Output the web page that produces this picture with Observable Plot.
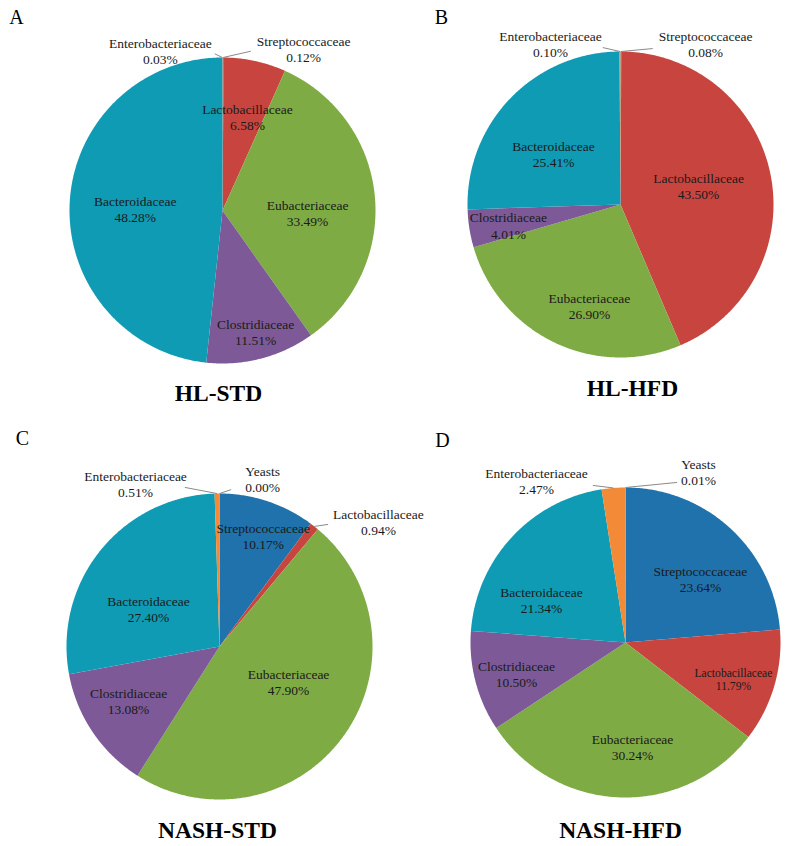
<!DOCTYPE html>
<html><head><meta charset="utf-8">
<script src="https://cdn.jsdelivr.net/npm/d3@7"></script>
<script src="https://cdn.jsdelivr.net/npm/@observablehq/plot@0.6"></script>
<style>
body{margin:0;background:#fff}
#chart{position:relative;width:786px;height:846px;overflow:hidden;background:#fff}
#chart svg{position:absolute;overflow:visible}
</style>
</head><body><div id="chart"></div>
<script>
// ---------- data ----------
const categories = ["Yeasts","Streptococcaceae","Lactobacillaceae","Eubacteriaceae","Clostridiaceae","Bacteroidaceae","Enterobacteriaceae"];
const panelLetters = ["A","B","C","D"];
const panelTitles = ["HL-STD","HL-HFD","NASH-STD","NASH-HFD"];
const hlStd   = [null, 0.12, 6.58, 33.49, 11.51, 48.28, 0.03];
const hlHfd   = [null, 0.08, 43.50, 26.90, 4.01, 25.41, 0.10];
const nashStd = [0.00, 10.17, 0.94, 47.90, 13.08, 27.40, 0.51];
const nashHfd = [0.01, 23.64, 11.79, 30.24, 10.50, 21.34, 2.47];
const panelValues = [hlStd, hlHfd, nashStd, nashHfd];

// ---------- style / layout ----------
const colors = ["#b0b0b0", "#1f72ab", "#c8453f", "#7fab45", "#7d5a97", "#109bb4", "#f28a38"];
const FONT = "Liberation Serif";
const W = 393, H = 423;
const layout = [
  {left:0, top:0, cx:222, cy:210, r:153, letter:[16,17], title:[218,393], labels:{
    Streptococcaceae:{da:26.5, rf:1.18, leader:{edge:"left", pad:6, dy:2}},
    Lactobacillaceae:{da:2.6, rf:0.636},
    Eubacteriaceae:{da:6.9, rf:0.556},
    Clostridiaceae:{da:-0.7, rf:0.82},
    Bacteroidaceae:{da:-1.7, rf:0.57},
    Enterobacteriaceae:{da:-21.2, rf:1.12, leader:{edge:"right", pad:3, dy:3}}
  }},
  {left:393, top:0, cx:227, cy:204, r:153, letter:[48,17], title:[239,388], labels:{
    Streptococcaceae:{da:27.8, rf:1.187, leader:{edge:"left", pad:6, dy:4.5}},
    Lactobacillaceae:{da:-2.3, rf:0.525},
    Eubacteriaceae:{da:-8.2, rf:0.69},
    Clostridiaceae:{da:-1.5, rf:0.745},
    Bacteroidaceae:{da:-6.6, rf:0.55},
    Enterobacteriaceae:{da:-23.4, rf:1.144, leader:{edge:"right", pad:1, dy:3.5}}
  }},
  {left:0, top:423, cx:219, cy:223, r:153, letter:[22,15], title:[217,407], labels:{
    Yeasts:{da:14.4, rf:1.133, leader:{edge:"left", pad:14, dy:11}},
    Streptococcaceae:{da:3.2, rf:0.78},
    Lactobacillaceae:{da:13.6, rf:1.32, leader:{edge:"left", pad:5, dy:2.5}},
    Eubacteriaceae:{da:-9.3, rf:0.506},
    Clostridiaceae:{da:3.1, rf:0.693},
    Bacteroidaceae:{da:-11, rf:0.525},
    Enterobacteriaceae:{da:-26.4, rf:1.196, leader:{edge:"right", pad:-2, dy:3.5}}
  }},
  {left:393, top:423, cx:232, cy:219, r:155, letter:[49,17], title:[227,407], labels:{
    Yeasts:{da:23.1, rf:1.2, leader:{edge:"left", pad:4, dy:11}},
    Streptococcaceae:{da:6.9, rf:0.636},
    Lactobacillaceae:{da:2.3, rf:0.735, size:11.6},
    Eubacteriaceae:{da:-5.9, rf:0.672},
    Clostridiaceae:{da:-1.2, rf:0.731},
    Bacteroidaceae:{da:-15.9, rf:0.607},
    Enterobacteriaceae:{da:-24.4, rf:1.19, leader:{edge:"right", pad:5, dy:4.5}}
  }}
];

const ctx = document.createElement("canvas").getContext("2d");
function textWidth(s, size) { ctx.font = `${size}px "Liberation Serif"`; return ctx.measureText(s).width; }
const rad = d => d * Math.PI / 180;

function makePanel(p) {
  const L = layout[p], vals = panelValues[p], R = L.r;
  const total = d3.sum(vals.filter(v => v != null));
  const slices = [];
  let acc = 0;
  categories.forEach((c, i) => {
    const v = vals[i];
    if (v == null) return;
    const a0 = acc / total * 360, a1 = (acc + v) / total * 360;
    acc += v;
    slices.push({category: c, value: v, a0, a1, mid: (a0 + a1) / 2});
  });
  const pts = [];
  for (const s of slices) {
    if (s.value <= 0) continue;
    pts.push({category: s.category, x: 0, y: 0});
    const n = Math.max(2, Math.ceil((s.a1 - s.a0) / 0.5));
    for (let k = 0; k <= n; k++) {
      const a = rad(s.a0 + (s.a1 - s.a0) * k / n);
      pts.push({category: s.category, x: Math.sin(a), y: -Math.cos(a)});
    }
  }
  const labels = [], leaders = [];
  for (const s of slices) {
    const cfg = L.labels[s.category];
    if (!cfg) continue;
    const size = cfg.size || 13.5;
    const a = rad(s.mid + cfg.da);
    const lx = cfg.rf * Math.sin(a), ly = -cfg.rf * Math.cos(a);
    const pct = s.value.toFixed(2) + "%";
    labels.push({x: lx, y: ly, text: s.category + "\n" + pct, size});
    if (cfg.leader) {
      const w = Math.max(textWidth(s.category, size), textWidth(pct, size));
      const off = (w / 2 + cfg.leader.pad) / R;
      const am = rad(s.mid);
      leaders.push({
        x1: Math.sin(am), y1: -Math.cos(am),
        x2: cfg.leader.edge === "left" ? lx - off : lx + off,
        y2: ly + cfg.leader.dy / R
      });
    }
  }
  const normal = labels.filter(d => d.size === 13.5), small = labels.filter(d => d.size !== 13.5);
  const svg = Plot.plot({
    width: W, height: H, margin: 0,
    x: {domain: [-L.cx / R, (W - L.cx) / R], range: [0, W], axis: null},
    y: {domain: [-L.cy / R, (H - L.cy) / R], range: [0, H], axis: null},
    color: {domain: categories, range: colors},
    style: {background: "transparent", fontFamily: FONT, overflow: "visible"},
    marks: [
      Plot.line(pts, {x: "x", y: "y", z: "category", fill: "category", stroke: "none", curve: "linear-closed"}),
      Plot.link(leaders, {x1: "x1", y1: "y1", x2: "x2", y2: "y2", stroke: "#8a8a8a", strokeWidth: 1}),
      Plot.text(normal, {x: "x", y: "y", text: "text", fontSize: 13.5, lineHeight: 1.19, fill: "#1a1a1a", fontFamily: FONT, textAnchor: "middle", lineAnchor: "middle"}),
      Plot.text(small, {x: "x", y: "y", text: "text", fontSize: 11.6, lineHeight: 1.12, fill: "#1a1a1a", fontFamily: FONT, textAnchor: "middle", lineAnchor: "middle"}),
      Plot.text([panelTitles[p]], {frameAnchor: "top-left", dx: L.title[0], dy: L.title[1], text: d => d, fontSize: 23.5, fontWeight: "bold", fill: "#000", fontFamily: FONT, textAnchor: "middle", lineAnchor: "middle"}),
      Plot.text([panelLetters[p]], {frameAnchor: "top-left", dx: L.letter[0], dy: L.letter[1], text: d => d, fontSize: 20, fill: "#000", fontFamily: FONT, textAnchor: "middle", lineAnchor: "middle"})
    ]
  });
  svg.style.left = L.left + "px";
  svg.style.top = L.top + "px";
  return svg;
}

const chart = document.getElementById("chart");
for (let p = 0; p < 4; p++) chart.appendChild(makePanel(p));
</script>
</body></html>
